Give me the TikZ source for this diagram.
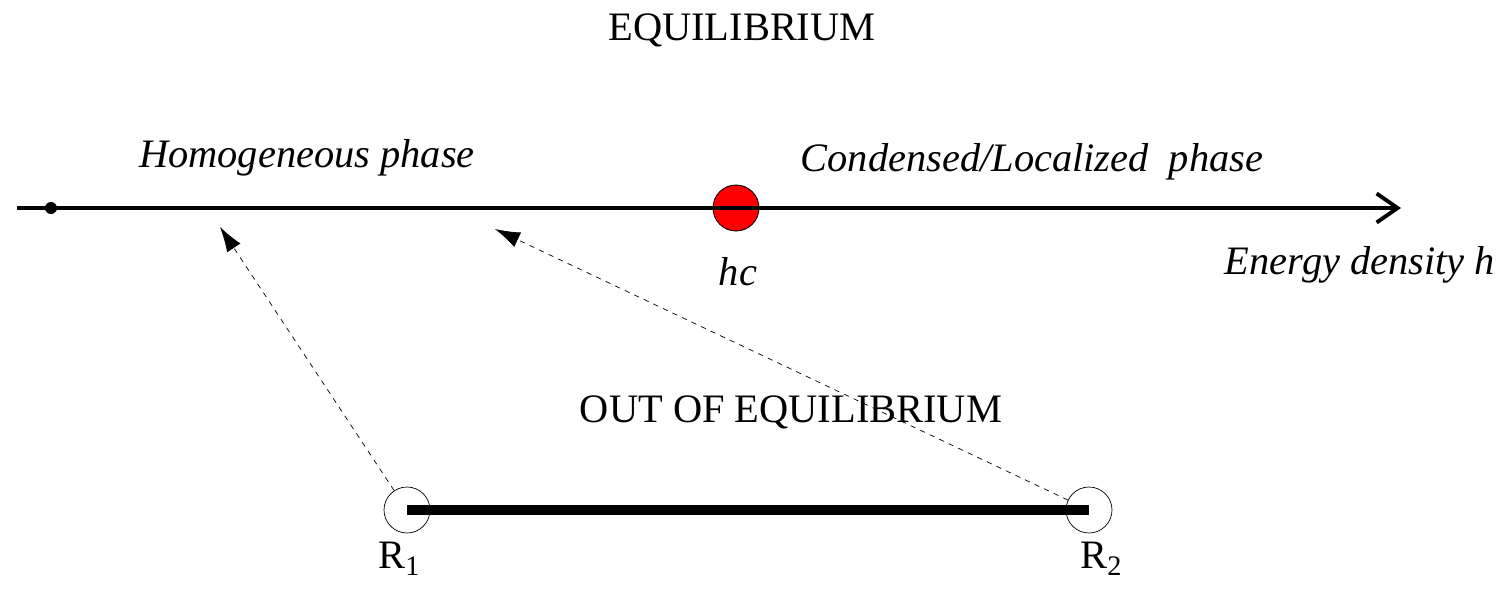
\documentclass[tikz,border=0pt]{standalone}
\usepackage{fontspec}
\setmainfont{Liberation Serif}
\usetikzlibrary{arrows.meta,positioning}

\begin{document}
\begin{tikzpicture}[
    x=0.02cm, y=-0.02cm,
    every node/.style={font=\fontsize{23}{27}\selectfont},
    label/.style={font=\fontsize{23}{27}\selectfont\itshape},
    ring/.style={circle, draw=black, thin, minimum size=0.92cm, inner sep=0pt},
    axis/.style={line width=2.2pt, -{Straight Barb[length=0.42cm, width=0.58cm, line width=2.2pt]}},
    jump/.style={dashed, thin, -{Latex[length=0.5cm, width=0.32cm]}}
]
\useasboundingbox (0,0) rectangle (1507,589);

% Equilibrium line
\node at (742,30) (eqtitle) {EQUILIBRIUM};
\coordinate (axstart) at (17,208);
\coordinate (axend) at (1401,208);
\draw[axis] (axstart) -- (axend);
\node[circle, fill=black, inner sep=0pt, minimum size=0.24cm] (origin) at (51,208) {};
\node[ring, fill=red, line width=0.5pt] (crit) at (736,208) {};
\draw[line width=2.2pt] (crit.west) -- (crit.east);
\node[label] (hc) at (738,272) {hc};
\node[label] (homog) at (307,158) {Homogeneous phase};
\node[label] (cond) at (1032,162) {Condensed/Localized\ \ phase};
\node[label] (energy) at (1360,265) {Energy density h};

% Out of equilibrium
\node at (791,412) (neqtitle) {OUT OF EQUILIBRIUM};
\node[ring] (r1) at (407,510) {};
\node[ring] (r2) at (1089,510) {};
\draw[line width=0.2cm] (r1.center) -- (r2.center);
\node[below=0.05cm of r1, xshift=-0.15cm] (r1lab) {R\textsubscript{1}};
\node[below=0.05cm of r2, xshift=0.25cm] (r2lab) {R\textsubscript{2}};

% Jumps onto the equilibrium line
\coordinate (tip1) at (220,227);
\coordinate (tip2) at (495,229);
\draw[jump] (r1) -- (tip1);
\draw[jump] (r2) -- (tip2);

\end{tikzpicture}
\end{document}
